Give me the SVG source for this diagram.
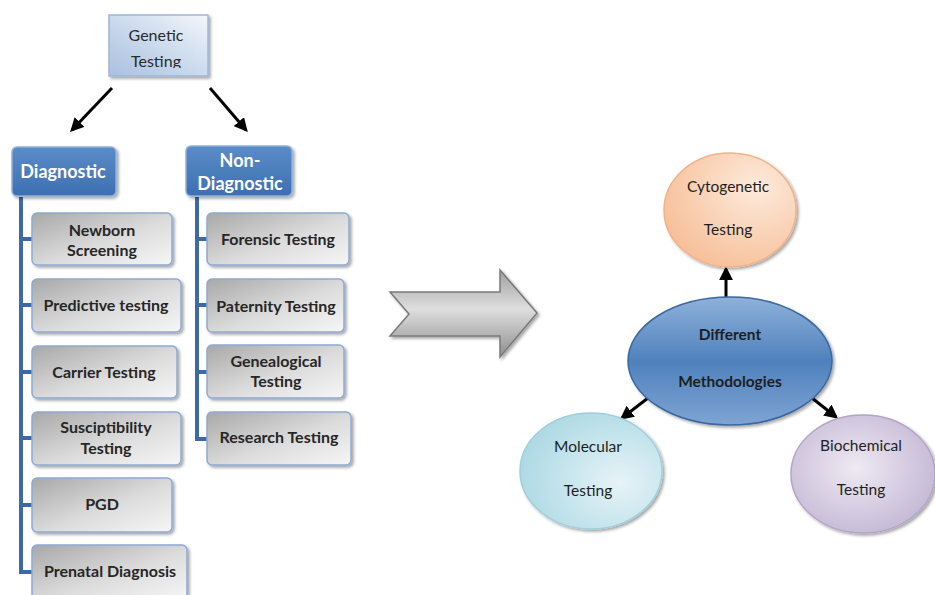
<svg xmlns="http://www.w3.org/2000/svg" width="935" height="595" viewBox="0 0 935 595">
<defs>
<linearGradient id="gGen" x1="0" y1="1" x2="1" y2="0">
<stop offset="0" stop-color="#a9c0df"/><stop offset="0.6" stop-color="#d3e0f0"/><stop offset="1" stop-color="#f4f7fb"/>
</linearGradient>
<linearGradient id="gBlue" x1="0" y1="0" x2="0" y2="1">
<stop offset="0" stop-color="#5b8cc8"/><stop offset="1" stop-color="#3d6fb0"/>
</linearGradient>
<linearGradient id="gGrey" x1="0" y1="0" x2="1" y2="1">
<stop offset="0" stop-color="#a8a8a8"/><stop offset="0.55" stop-color="#dcdcdc"/><stop offset="1" stop-color="#f6f6f6"/>
</linearGradient>
<linearGradient id="gArrow" x1="0" y1="0" x2="0" y2="1">
<stop offset="0" stop-color="#a0a0a0"/><stop offset="0.45" stop-color="#dedede"/><stop offset="1" stop-color="#8e8e8e"/>
</linearGradient>
<radialGradient id="gPeach" cx="0.7" cy="0.3" r="0.8">
<stop offset="0" stop-color="#fdeadb"/><stop offset="1" stop-color="#f7be97"/>
</radialGradient>
<linearGradient id="gMeth" x1="0" y1="0" x2="0" y2="1">
<stop offset="0" stop-color="#8fb1da"/><stop offset="0.5" stop-color="#4f81bd"/><stop offset="1" stop-color="#7ea4d3"/>
</linearGradient>
<radialGradient id="gCyan" cx="0.7" cy="0.6" r="0.8">
<stop offset="0" stop-color="#e6f3f7"/><stop offset="1" stop-color="#a6d6e2"/>
</radialGradient>
<radialGradient id="gLav" cx="0.45" cy="0.45" r="0.8">
<stop offset="0" stop-color="#eeeaf3"/><stop offset="1" stop-color="#b6a7cb"/>
</radialGradient>
<filter id="sh" x="-20%" y="-20%" width="140%" height="140%">
<feDropShadow dx="2" dy="2" stdDeviation="1.5" flood-color="#000" flood-opacity="0.35"/>
</filter>
<marker id="ah" viewBox="0 0 10 10" refX="8" refY="5" markerWidth="4.6" markerHeight="4.6" orient="auto">
<path d="M0,0 L10,5 L0,10 z" fill="#000"/>
</marker>
<clipPath id="genClip"><rect x="108" y="14" width="104" height="54"/></clipPath>
</defs>
<style>
text{font-family:Lato,"Liberation Sans",sans-serif;text-anchor:middle}
.child rect{fill:url(#gGrey);stroke:#8fa9d4;stroke-width:1.5;filter:url(#sh)}
.child text{font-size:16px;font-weight:bold;fill:#262626}
.cat rect{fill:url(#gBlue);stroke:#8fb0dc;stroke-width:1.5;filter:url(#sh)}
.cat text{font-size:18px;font-weight:bold;fill:#fff}
.ell text{font-size:15.5px;fill:#1e1e1e}
.trunk{stroke:#3d6aa6;stroke-width:4;fill:none}
.blk{stroke:#000;stroke-width:3;fill:none;marker-end:url(#ah)}
</style>

<g id="connectors">
<path class="trunk" d="M21,197 V572 H32 M21,239 H32 M21,305 H32 M21,372 H32 M21,438 H32 M21,505 H32"/>
<path class="trunk" d="M197,197 V439 H207 M197,239 H207 M197,305 H207 M197,372 H207"/>
<line class="blk" x1="112" y1="88" x2="72" y2="130"/>
<line class="blk" x1="210" y1="88" x2="246" y2="130"/>
<line class="blk" x1="726" y1="298" x2="726" y2="269"/>
<line class="blk" x1="648" y1="398" x2="622" y2="418"/>
<line class="blk" x1="812" y1="398" x2="836" y2="417"/>
</g>

<g id="genetic-testing">
<rect x="109" y="15" width="99" height="61" fill="url(#gGen)" stroke="#9db7da" stroke-width="1.5" filter="url(#sh)"/>
<g clip-path="url(#genClip)" font-size="16" fill="#2a2a2a">
<text x="156" y="41">Genetic</text>
<text x="156" y="67">Testing</text>
</g>
</g>

<g id="diagnostic" class="cat">
<rect x="12" y="147" width="104" height="49" rx="5"/>
<text x="63" y="178">Diagnostic</text>
</g>
<g id="non-diagnostic" class="cat">
<rect x="186" y="146" width="106" height="50" rx="5"/>
<text x="240" y="167">Non-</text>
<text x="240" y="190">Diagnostic</text>
</g>

<g id="newborn" class="child">
<rect x="32" y="213" width="140" height="52" rx="5"/>
<text x="102" y="236">Newborn</text>
<text x="102" y="256">Screening</text>
</g>
<g id="predictive" class="child">
<rect x="32" y="279" width="149" height="53" rx="5"/>
<text x="106" y="311">Predictive testing</text>
</g>
<g id="carrier" class="child">
<rect x="32" y="346" width="145" height="52" rx="5"/>
<text x="104" y="378">Carrier Testing</text>
</g>
<g id="susceptibility" class="child">
<rect x="32" y="412" width="149" height="53" rx="5"/>
<text x="106" y="433">Susciptibility</text>
<text x="106" y="454">Testing</text>
</g>
<g id="pgd" class="child">
<rect x="32" y="478" width="140" height="54" rx="5"/>
<text x="102" y="510">PGD</text>
</g>
<g id="prenatal" class="child">
<rect x="32" y="545" width="155" height="54" rx="5"/>
<text x="110" y="577">Prenatal Diagnosis</text>
</g>

<g id="forensic" class="child">
<rect x="207" y="213" width="142" height="52" rx="5"/>
<text x="278" y="245">Forensic Testing</text>
</g>
<g id="paternity" class="child">
<rect x="207" y="279" width="137" height="53" rx="5"/>
<text x="276" y="312">Paternity Testing</text>
</g>
<g id="genealogical" class="child">
<rect x="207" y="345" width="137" height="53" rx="5"/>
<text x="276" y="367">Genealogical</text>
<text x="276" y="387">Testing</text>
</g>
<g id="research" class="child">
<rect x="207" y="412" width="144" height="53" rx="5"/>
<text x="279" y="443">Research Testing</text>
</g>

<g id="big-arrow">
<path d="M390,292 H500 V270 L537,313 L500,357 V336 H390 L409,314 Z" fill="url(#gArrow)" stroke="#7a7a7a" stroke-width="1.5" filter="url(#sh)"/>
</g>

<g id="cytogenetic" class="ell">
<ellipse cx="730" cy="210" rx="66" ry="57" fill="url(#gPeach)" stroke="#f0b28a" stroke-width="1.5" filter="url(#sh)"/>
<text x="728" y="192">Cytogenetic</text>
<text x="728" y="235">Testing</text>
</g>
<g id="methodologies" class="ell">
<ellipse cx="730" cy="361" rx="102" ry="64" fill="url(#gMeth)" stroke="#3a679f" stroke-width="1.5" filter="url(#sh)"/>
<text x="730" y="340" font-weight="bold" font-size="17">Different</text>
<text x="730" y="387" font-weight="bold" font-size="17">Methodologies</text>
</g>
<g id="molecular" class="ell">
<ellipse cx="591" cy="471" rx="71" ry="58" fill="url(#gCyan)" stroke="#9fcfdc" stroke-width="1.5" filter="url(#sh)"/>
<text x="588" y="452">Molecular</text>
<text x="588" y="496">Testing</text>
</g>
<g id="biochemical" class="ell">
<ellipse cx="863" cy="474" rx="72" ry="59" fill="url(#gLav)" stroke="#b4a5c8" stroke-width="1.5" filter="url(#sh)"/>
<text x="861" y="451">Biochemical</text>
<text x="861" y="495">Testing</text>
</g>
</svg>
